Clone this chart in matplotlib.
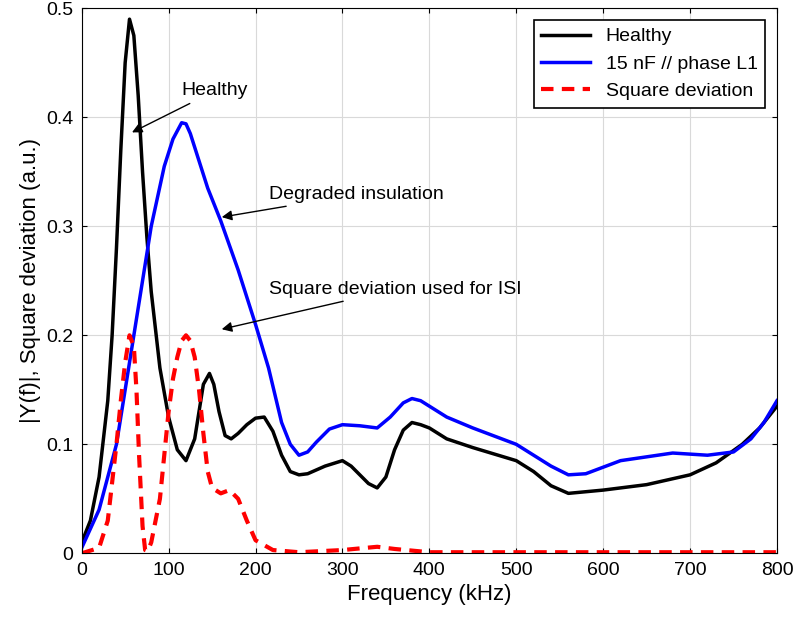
import matplotlib
matplotlib.use('Agg')
import matplotlib.pyplot as plt

plt.rcParams['font.family'] = ['Liberation Sans', 'DejaVu Sans']

# Healthy response
f_healthy = [0, 10, 20, 30, 35, 40, 45, 50, 55, 60, 65, 70, 75, 80, 90, 100, 110, 120, 130,
             135, 140, 147, 152, 158, 165, 172, 180, 190, 200, 210, 220, 230, 240, 250, 260,
             280, 300, 310, 320, 330, 340, 350, 360, 370, 380, 390, 400, 420, 450, 500, 520,
             540, 560, 600, 650, 700, 730, 760, 780, 800]
y_healthy = [0.01, 0.03, 0.07, 0.14, 0.20, 0.28, 0.37, 0.45, 0.49, 0.475, 0.42, 0.35, 0.29,
             0.24, 0.17, 0.125, 0.095, 0.085, 0.105, 0.13, 0.155, 0.165, 0.155, 0.13, 0.108,
             0.105, 0.11, 0.118, 0.124, 0.125, 0.112, 0.09, 0.075, 0.072, 0.073, 0.08, 0.085,
             0.08, 0.072, 0.064, 0.06, 0.07, 0.095, 0.113, 0.12, 0.118, 0.115, 0.105, 0.097,
             0.085, 0.075, 0.062, 0.055, 0.058, 0.063, 0.072, 0.083, 0.1, 0.115, 0.135]

# 15 nF // phase L1
f_fault = [0, 20, 40, 60, 80, 95, 105, 115, 120, 125, 135, 145, 160, 180, 200, 215, 230, 240,
           250, 260, 270, 285, 300, 320, 340, 355, 370, 380, 390, 400, 420, 450, 500, 520, 540,
           560, 580, 620, 680, 720, 750, 770, 785, 800]
y_fault = [0.005, 0.04, 0.10, 0.20, 0.30, 0.355, 0.38, 0.395, 0.394, 0.385, 0.36, 0.335, 0.305,
           0.26, 0.21, 0.17, 0.12, 0.1, 0.09, 0.093, 0.102, 0.114, 0.118, 0.117, 0.115, 0.125,
           0.138, 0.142, 0.14, 0.135, 0.125, 0.115, 0.10, 0.09, 0.08, 0.072, 0.073, 0.085,
           0.092, 0.09, 0.093, 0.105, 0.12, 0.14]

# Square deviation
f_dev = [0, 20, 30, 40, 45, 50, 55, 60, 63, 66, 70, 73, 76, 80, 90, 100, 105, 110, 115, 120,
         125, 130, 135, 140, 145, 150, 160, 170, 180, 190, 200, 220, 250, 300, 340, 360, 400, 800]
y_dev = [0, 0.005, 0.03, 0.10, 0.14, 0.175, 0.2, 0.19, 0.15, 0.09, 0.025, 0.003, 0.002, 0.01,
         0.05, 0.13, 0.16, 0.18, 0.195, 0.2, 0.195, 0.18, 0.15, 0.11, 0.075, 0.06, 0.055, 0.058,
         0.05, 0.03, 0.012, 0.003, 0.001, 0.003, 0.006, 0.004, 0.001, 0.001]

fig = plt.figure(figsize=(8.01, 6.36), dpi=100)
ax = fig.add_axes([0.102, 0.130, 0.868, 0.857])

ax.plot(f_healthy, y_healthy, color='black', lw=2.5, label='Healthy')
ax.plot(f_fault, y_fault, color='blue', lw=2.5, label='15 nF // phase L1')
ax.plot(f_dev, y_dev, color='red', lw=3, ls=(0, (3, 2)), label='Square deviation')

ax.set_xlim(0, 800)
ax.set_ylim(0, 0.5)
ax.set_xticks(range(0, 801, 100))
ax.set_yticks([0, 0.1, 0.2, 0.3, 0.4, 0.5])
ax.set_yticklabels(['0', '0.1', '0.2', '0.3', '0.4', '0.5'])
ax.tick_params(labelsize=14, direction='in', top=True, right=True, pad=6)
ax.grid(True, color='#d9d9d9', lw=0.8)
ax.set_xlabel('Frequency (kHz)', fontsize=16)
ax.set_ylabel('|Y(f)|, Square deviation (a.u.)', fontsize=16)

arrow = dict(arrowstyle='-|>', color='black', lw=1, mutation_scale=15)
ax.annotate('Healthy', xy=(55, 0.385), xytext=(115, 0.42), fontsize=14, arrowprops=arrow)
ax.annotate('Degraded insulation', xy=(158, 0.308), xytext=(215, 0.325), fontsize=14,
            arrowprops=arrow)
ax.annotate('Square deviation used for ISI', xy=(158, 0.205), xytext=(215, 0.238), fontsize=14,
            arrowprops=arrow)

leg = ax.legend(loc='upper right', fontsize=14, fancybox=False, framealpha=1,
                edgecolor='black', borderaxespad=0.6, handlelength=2.5)
leg.get_frame().set_linewidth(1.2)

fig.savefig('out.png', dpi=100)
